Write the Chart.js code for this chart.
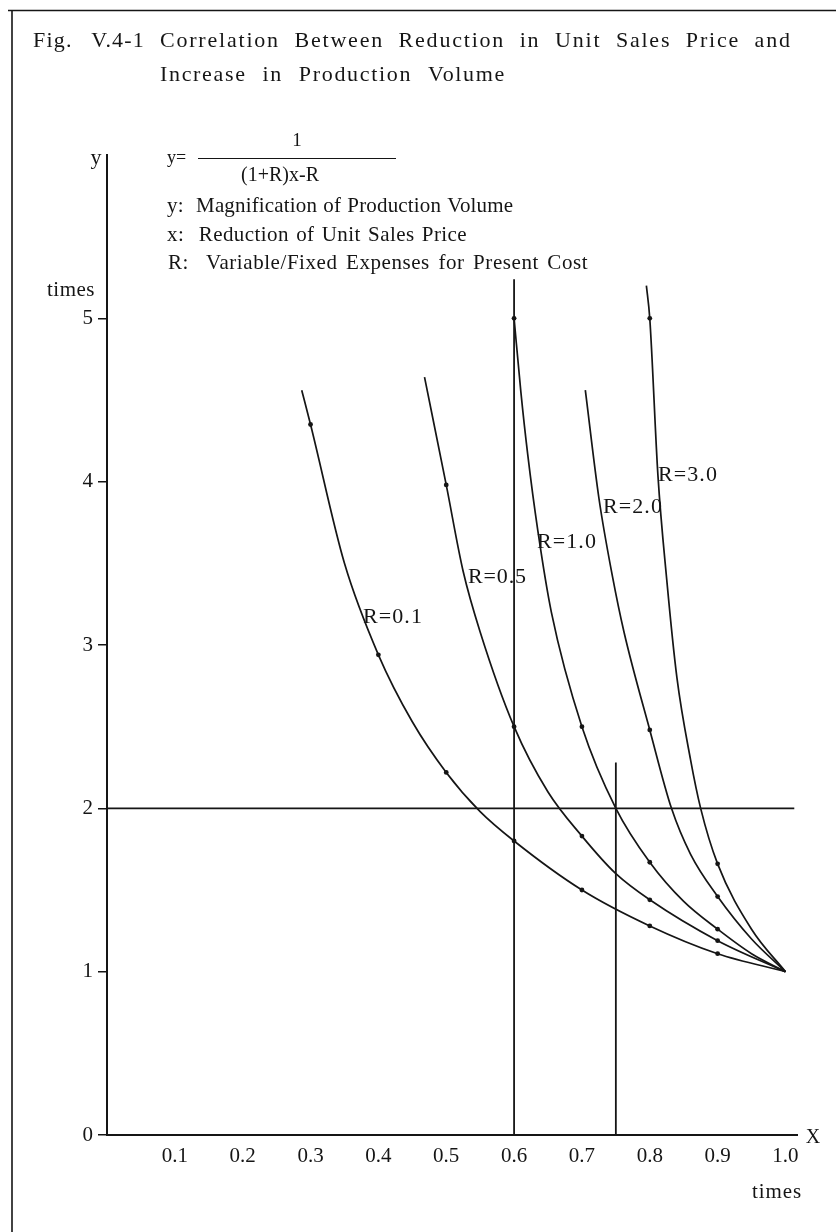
<!DOCTYPE html>
<html>
<head>
<meta charset="utf-8">
<script src="https://cdn.jsdelivr.net/npm/chart.js@4.4.1/dist/chart.umd.min.js"></script>
<style>
  html, body { margin: 0; padding: 0; background: #fff; }
  #wrap { width: 836px; height: 1232px; }
</style>
</head>
<body>
<div id="wrap"><canvas id="chart" width="836" height="1232"></canvas></div>
<script>
/* ======================
   DATA
====================== */
const xTicks = [0.1, 0.2, 0.3, 0.4, 0.5, 0.6, 0.7, 0.8, 0.9, 1.0];
const yTicks = [0, 1, 2, 3, 4, 5];
const curveNames = ["R=0.1", "R=0.5", "R=1.0", "R=2.0", "R=3.0"];

const r01X = [0.287, 0.3, 0.35, 0.4, 0.45, 0.5, 0.55, 0.6, 0.7, 0.8, 0.9, 1.0];
const r01Y = [4.56, 4.35, 3.5, 2.94, 2.53, 2.22, 1.98, 1.8, 1.5, 1.28, 1.11, 1.0];

const r05X = [0.468, 0.5, 0.525, 0.55, 0.6, 0.65, 0.7, 0.75, 0.8, 0.9, 1.0];
const r05Y = [4.64, 3.98, 3.45, 3.08, 2.5, 2.1, 1.83, 1.6, 1.44, 1.19, 1.0];

const r10X = [0.6, 0.61, 0.62, 0.635, 0.655, 0.7, 0.75, 0.8, 0.85, 0.9, 0.95, 1.0];
const r10Y = [5.0, 4.55, 4.17, 3.7, 3.2, 2.5, 2.0, 1.67, 1.43, 1.26, 1.11, 1.0];

const r20X = [0.705, 0.725, 0.745, 0.762, 0.8, 0.832, 0.86, 0.9, 0.95, 1.0];
const r20Y = [4.56, 3.9, 3.42, 3.08, 2.48, 2.0, 1.72, 1.46, 1.2, 1.0];

const r30X = [0.795, 0.8, 0.812, 0.825, 0.84, 0.86, 0.875, 0.9, 0.95, 1.0];
const r30Y = [5.2, 5.0, 4.04, 3.4, 2.8, 2.3, 2.0, 1.66, 1.26, 1.0];

// guide lines
const guide06X = [0.6, 0.6];     const guide06Y = [0, 5.24];
const guide075X = [0.75, 0.75];  const guide075Y = [0, 2.28];
const guideY2X = [0, 1.013];     const guideY2Y = [2, 2];

/* ======================
   HELPERS
====================== */
const INK = "#151515";
const SERIF = '"Liberation Serif", "DejaVu Serif", serif';

function pts(xs, ys) {
  return xs.map((x, i) => ({ x: x, y: ys[i] }));
}

function isDot(x) {
  return x < 0.999 && Math.abs(x * 10 - Math.round(x * 10)) < 1e-6;
}

// text fitted to a width; "share" of the slack goes to word gaps, the rest to letters
function txt(ctx, s, x, y, size, width, align, share) {
  ctx.save();
  ctx.font = size + "px " + SERIF;
  ctx.textBaseline = "middle";
  ctx.textAlign = "left";
  ctx.letterSpacing = "0px";
  ctx.wordSpacing = "0px";
  const w = ctx.measureText(s).width;
  let total = w;
  if (width) {
    const gaps = (s.match(/ /g) || []).length;
    const slack = width - w;
    const ws = gaps ? slack * (share || 0) / gaps : 0;
    const ls = (slack - ws * gaps) / s.length;
    ctx.letterSpacing = ls.toFixed(2) + "px";
    ctx.wordSpacing = ws.toFixed(2) + "px";
    total = width;
  }
  let left = x;
  if (align === "center") left = x - total / 2;
  if (align === "right") left = x - total;
  ctx.fillStyle = INK;
  ctx.fillText(s, left, y);
  ctx.restore();
}

const curveStyle = {
  showLine: true,
  borderColor: INK,
  backgroundColor: INK,
  borderWidth: 1.7,
  cubicInterpolationMode: "monotone",
  pointBackgroundColor: INK,
  pointBorderWidth: 0,
  pointRadius: c => (c.raw && isDot(c.raw.x) ? 2.4 : 0),
  pointHoverRadius: 0
};

const guideStyle = {
  showLine: true,
  borderColor: INK,
  borderWidth: 1.8,
  tension: 0,
  pointRadius: 0,
  pointHoverRadius: 0
};

/* ======================
   DECORATION + TEXT
====================== */
const paperPlugin = {
  id: "paper",
  beforeDraw(chart) {
    const ctx = chart.ctx;
    ctx.save();
    ctx.fillStyle = "#fff";
    ctx.fillRect(0, 0, chart.width, chart.height);
    ctx.restore();
  },
  afterDraw(chart) {
    const ctx = chart.ctx;
    ctx.save();
    ctx.strokeStyle = INK;
    ctx.lineWidth = 1.6;
    // frame: top edge and left edge of the box
    ctx.beginPath();
    ctx.moveTo(8, 10.5); ctx.lineTo(836, 10.5);
    ctx.moveTo(12, 10); ctx.lineTo(12, 1232);
    ctx.stroke();

    // title, hanging indent
    txt(ctx, "Fig. V.4-1", 33, 41, 22, 112, "left", 0.5);
    txt(ctx, "Correlation Between Reduction in Unit Sales Price and", 160, 41, 22, 632, "left", 0.35);
    txt(ctx, "Increase in Production Volume", 160, 75, 22, 346, "left", 0.35);

    // formula
    txt(ctx, "y=", 167, 158, 18);
    txt(ctx, "1", 297, 141, 19, null, "center");
    ctx.lineWidth = 1.2;
    ctx.beginPath();
    ctx.moveTo(198, 158.5); ctx.lineTo(396, 158.5);
    ctx.stroke();
    txt(ctx, "(1+R)x-R", 280, 176, 20, null, "center");

    // key
    txt(ctx, "y:  Magnification of Production Volume", 167, 206, 21, 346, "left", 0.4);
    txt(ctx, "x:  Reduction of Unit Sales Price", 167, 235, 21, 300, "left", 0.4);
    txt(ctx, "R:  Variable/Fixed Expenses for Present Cost", 168, 263, 21, 420, "left", 0.4);

    // axis names / units
    txt(ctx, "y", 96, 158, 22, null, "center");
    txt(ctx, "times", 71, 290, 21, 48, "center");
    txt(ctx, "X", 813, 1138, 20, null, "center");
    txt(ctx, "times", 777, 1192, 21, 50, "center");

    // curve labels
    txt(ctx, curveNames[0], 363, 617, 22, 60);
    txt(ctx, curveNames[1], 468, 577, 22, 59);
    txt(ctx, curveNames[2], 537, 542, 22, 60);
    txt(ctx, curveNames[3], 603, 507, 22, 60);
    txt(ctx, curveNames[4], 658, 475, 22, 60);
    ctx.restore();
  }
};

/* ======================
   CHART
====================== */
new Chart(document.getElementById("chart"), {
  type: "scatter",
  data: {
    datasets: [
      { ...guideStyle, data: pts(guide06X, guide06Y) },
      { ...guideStyle, data: pts(guide075X, guide075Y) },
      { ...guideStyle, data: pts(guideY2X, guideY2Y) },
      { ...curveStyle, label: curveNames[0], data: pts(r01X, r01Y) },
      { ...curveStyle, label: curveNames[1], data: pts(r05X, r05Y) },
      { ...curveStyle, label: curveNames[2], data: pts(r10X, r10Y) },
      { ...curveStyle, label: curveNames[3], data: pts(r20X, r20Y) },
      { ...curveStyle, label: curveNames[4], data: pts(r30X, r30Y) }
    ]
  },
  options: {
    responsive: false,
    animation: false,
    devicePixelRatio: 1,
    layout: { padding: { left: 0, top: 155, right: 39, bottom: 0 } },
    plugins: {
      legend: { display: false },
      tooltip: { enabled: false }
    },
    scales: {
      x: {
        type: "linear",
        min: 0,
        max: 1.017,
        afterBuildTicks: s => { s.ticks = xTicks.map(v => ({ value: v })); },
        afterFit: s => { s.height = 97; },
        ticks: {
          padding: 9,
          color: INK,
          font: { family: SERIF, size: 21 },
          callback: v => v.toFixed(1)
        },
        grid: { drawOnChartArea: false, drawTicks: false },
        border: { display: true, color: INK, width: 2 }
      },
      y: {
        type: "linear",
        min: 0,
        max: 6,
        afterBuildTicks: s => { s.ticks = yTicks.map(v => ({ value: v })); },
        afterFit: s => { s.width = 107; },
        ticks: {
          padding: 5,
          color: INK,
          font: { family: SERIF, size: 21 },
          callback: v => String(v)
        },
        grid: { drawOnChartArea: false, drawTicks: true, tickLength: 9, color: INK, lineWidth: 1.5 },
        border: { display: true, color: INK, width: 2 }
      }
    }
  },
  plugins: [paperPlugin]
});
</script>
</body>
</html>
